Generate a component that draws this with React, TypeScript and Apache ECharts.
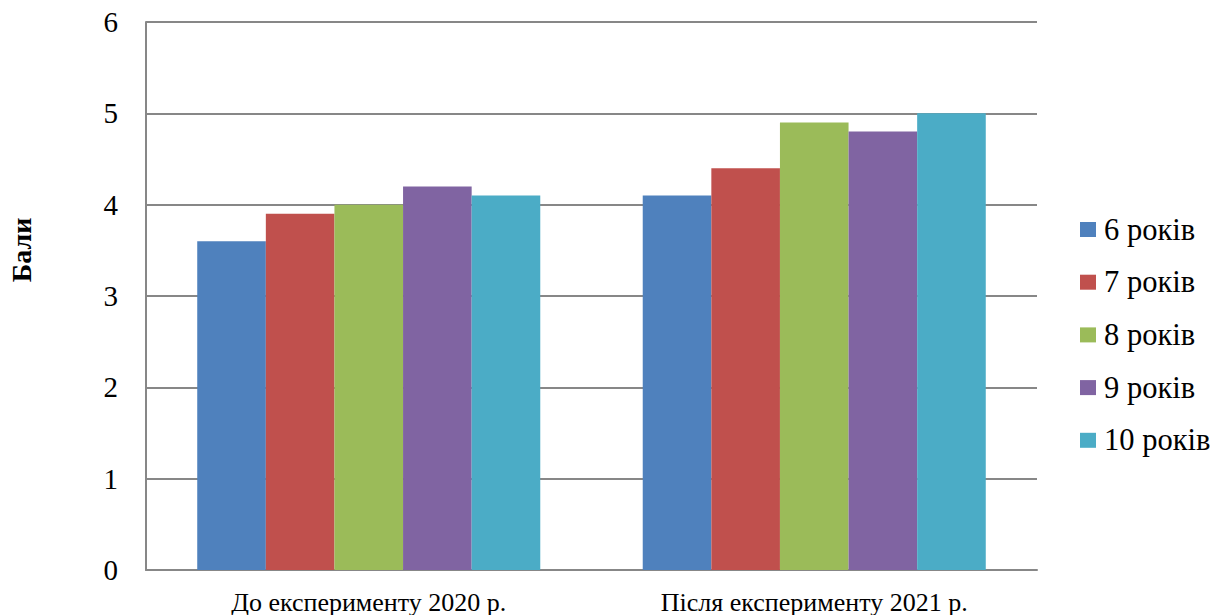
import React, { useEffect, useRef } from "react";
import * as echarts from "echarts";

// Survey periods along the category axis
const categories = ["До експерименту 2020 р.", "Після експерименту 2021 р."];

// Age groups and their average scores per period
const seriesNames = ["6 років", "7 років", "8 років", "9 років", "10 років"];
const age6 = [3.6, 4.1];
const age7 = [3.9, 4.4];
const age8 = [4.0, 4.9];
const age9 = [4.2, 4.8];
const age10 = [4.1, 5.0];
const seriesValues = [age6, age7, age8, age9, age10];

const colors = ["#4F81BD", "#C0504D", "#9BBB59", "#8064A2", "#4BACC6"];

const yTitle = "Бали";

const FONT = "Liberation Serif";

export default function App() {
  const ref = useRef<HTMLDivElement>(null);

  useEffect(() => {
    if (!ref.current) return;
    const chart = echarts.init(ref.current, undefined, { renderer: "svg" });
    chart.setOption({
      animation: false,
      backgroundColor: "#ffffff",
      color: colors,
      textStyle: { fontFamily: FONT, color: "#000" },
      grid: { left: 146, right: 181, top: 22, bottom: 44 },
      legend: {
        orient: "vertical",
        left: 1075,
        top: 209,
        itemWidth: 16,
        itemHeight: 15,
        itemGap: 21.7,
        icon: "rect",
        textStyle: {
          fontFamily: FONT,
          fontSize: 30.5,
          color: "#000",
          lineHeight: 30,
          padding: [0, 0, 0, 3],
        },
        data: seriesNames,
      },
      graphic: [
        {
          type: "text",
          x: 21,
          y: 250,
          rotation: Math.PI / 2,
          style: {
            text: yTitle,
            fontFamily: FONT,
            fontSize: 28,
            fontWeight: "bold",
            fill: "#000",
            align: "center",
            verticalAlign: "middle",
          },
        },
      ],
      xAxis: {
        type: "category",
        data: categories,
        axisLine: { show: true, lineStyle: { color: "#878787", width: 2 } },
        axisTick: { show: false },
        axisLabel: { fontFamily: FONT, fontSize: 26, color: "#000", margin: 19 },
      },
      yAxis: {
        type: "value",
        min: 0,
        max: 6,
        interval: 1,
        axisLine: { show: true, lineStyle: { color: "#878787", width: 2 } },
        axisTick: { show: false },
        axisLabel: { fontFamily: FONT, fontSize: 29, color: "#000", margin: 28 },
        splitLine: { show: true, lineStyle: { color: "#878787", width: 2 } },
      },
      series: seriesNames.map((name, i) => ({
        name,
        type: "bar",
        data: seriesValues[i],
        barGap: "0%",
        barCategoryGap: "23%",
        itemStyle: { color: colors[i] },
      })),
    });
    return () => chart.dispose();
  }, []);

  return (
    <div
      ref={ref}
      style={{ position: "fixed", left: 0, top: 0, width: 1218, height: 615 }}
    />
  );
}
